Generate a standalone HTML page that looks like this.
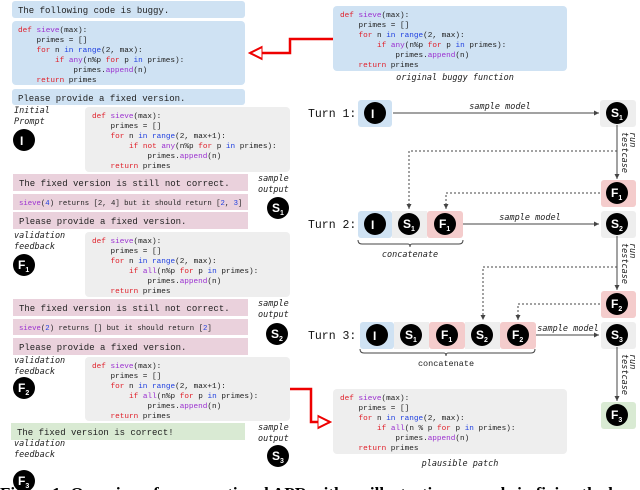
<!DOCTYPE html>
<html><head><meta charset="utf-8"><style>
body{margin:0;background:#fff}
svg{display:block}
.m{font-family:"Liberation Mono",monospace}
.c{font-size:7.7px;fill:#222}
.t{font-size:9px;fill:#222}
.it{font-family:"DejaVu Sans Mono","Liberation Mono",monospace;font-style:italic;font-size:8.5px;fill:#222}
.k{fill:#e0202a}.p{fill:#9b30d0}.b{fill:#2040e0}
.L{font-family:"Liberation Sans",sans-serif;font-weight:bold;fill:#fff;font-size:12px}
.s{font-size:7px}
</style></head><body>
<svg width="640" height="490" xmlns="http://www.w3.org/2000/svg">
<defs>
<marker id="a" markerWidth="6" markerHeight="6" refX="5" refY="3" orient="auto"><path d="M0,0.5 L5,3 L0,5.5z" fill="#444"/></marker>
<marker id="r" markerWidth="6" markerHeight="6" refX="5" refY="3" orient="auto"><path d="M0,0.5 L5,3 L0,5.5z" fill="#fff" stroke="#e00" stroke-width="0.8"/></marker>
</defs>
<rect x="12" y="1" width="233" height="17" rx="3" fill="#cfe2f3"/>
<text class="m t" x="18" y="13">The following code is buggy.</text>
<rect x="12" y="21" width="233" height="64" rx="4" fill="#cfe2f3"/>
<g class="m c">
<text x="18" y="32"><tspan class="k">def</tspan> <tspan class="p">sieve</tspan>(max):</text>
<text x="36.5" y="42">primes = []</text>
<text x="36.5" y="52"><tspan class="k">for</tspan> n <tspan class="b">in</tspan> <tspan class="b">range</tspan>(2, max):</text>
<text x="55" y="62"><tspan class="k">if</tspan> <tspan class="p">any</tspan>(n%p <tspan class="k">for</tspan> p <tspan class="b">in</tspan> primes):</text>
<text x="73.4" y="72">primes.<tspan class="p">append</tspan>(n)</text>
<text x="36.5" y="82"><tspan class="k">return</tspan> primes</text>
</g>
<rect x="12" y="89" width="233" height="16" rx="3" fill="#cfe2f3"/>
<text class="m t" x="18" y="101">Please provide a fixed version.</text>
<text class="it" x="14" y="113">Initial</text>
<text class="it" x="14" y="124">Prompt</text>
<rect x="85" y="107" width="205" height="65" rx="4" fill="#eeeeee"/>
<g class="m c">
<text x="92" y="118"><tspan class="k">def</tspan> <tspan class="p">sieve</tspan>(max):</text>
<text x="110.5" y="128">primes = []</text>
<text x="110.5" y="138"><tspan class="k">for</tspan> n <tspan class="b">in</tspan> <tspan class="b">range</tspan>(2, max+1):</text>
<text x="129" y="148"><tspan class="k">if not</tspan> <tspan class="p">any</tspan>(n%p <tspan class="k">for</tspan> p <tspan class="b">in</tspan> primes):</text>
<text x="147.4" y="158">primes.<tspan class="p">append</tspan>(n)</text>
<text x="110.5" y="168"><tspan class="k">return</tspan> primes</text>
</g>
<rect x="13" y="174" width="235" height="17" fill="#ead1dc"/>
<text class="m t" x="19" y="186">The fixed version is still not correct.</text>
<rect x="13" y="194" width="235" height="16" fill="#ead1dc"/>
<text class="m" font-size="7.3" fill="#222" x="19" y="205"><tspan class="p">sieve</tspan>(<tspan class="b">4</tspan>) returns [2, 4] but it should return [<tspan class="b">2</tspan>, <tspan class="b">3</tspan>]</text>
<rect x="13" y="212" width="235" height="17" fill="#ead1dc"/>
<text class="m t" x="19" y="224">Please provide a fixed version.</text>
<text class="it" x="258" y="181">sample</text>
<text class="it" x="258" y="192">output</text>
<text class="it" x="14" y="238">validation</text>
<text class="it" x="14" y="249">feedback</text>
<rect x="85" y="232" width="205" height="65" rx="4" fill="#eeeeee"/>
<g class="m c">
<text x="92" y="243"><tspan class="k">def</tspan> <tspan class="p">sieve</tspan>(max):</text>
<text x="110.5" y="253">primes = []</text>
<text x="110.5" y="263"><tspan class="k">for</tspan> n <tspan class="b">in</tspan> <tspan class="b">range</tspan>(2, max):</text>
<text x="129" y="273"><tspan class="k">if</tspan> <tspan class="p">all</tspan>(n%p <tspan class="k">for</tspan> p <tspan class="b">in</tspan> primes):</text>
<text x="147.4" y="283">primes.<tspan class="p">append</tspan>(n)</text>
<text x="110.5" y="293"><tspan class="k">return</tspan> primes</text>
</g>
<rect x="13" y="299" width="235" height="17" fill="#ead1dc"/>
<text class="m t" x="19" y="311">The fixed version is still not correct.</text>
<rect x="13" y="319" width="235" height="16" fill="#ead1dc"/>
<text class="m" font-size="7.3" fill="#222" x="19" y="330"><tspan class="p">sieve</tspan>(<tspan class="b">2</tspan>) returns [] but it should return [<tspan class="b">2</tspan>]</text>
<rect x="13" y="338" width="235" height="17" fill="#ead1dc"/>
<text class="m t" x="19" y="350">Please provide a fixed version.</text>
<text class="it" x="258" y="306">sample</text>
<text class="it" x="258" y="317">output</text>
<text class="it" x="14" y="363">validation</text>
<text class="it" x="14" y="374">feedback</text>
<rect x="85" y="357" width="205" height="64" rx="4" fill="#eeeeee"/>
<g class="m c">
<text x="92" y="368"><tspan class="k">def</tspan> <tspan class="p">sieve</tspan>(max):</text>
<text x="110.5" y="378">primes = []</text>
<text x="110.5" y="388"><tspan class="k">for</tspan> n <tspan class="b">in</tspan> <tspan class="b">range</tspan>(2, max+1):</text>
<text x="129" y="398"><tspan class="k">if</tspan> <tspan class="p">all</tspan>(n%p <tspan class="k">for</tspan> p <tspan class="b">in</tspan> primes):</text>
<text x="147.4" y="408">primes.<tspan class="p">append</tspan>(n)</text>
<text x="110.5" y="418"><tspan class="k">return</tspan> primes</text>
</g>
<rect x="11" y="423" width="234" height="17" fill="#d9ead3"/>
<text class="m t" x="17" y="435">The fixed version is correct!</text>
<text class="it" x="258" y="430">sample</text>
<text class="it" x="258" y="441">output</text>
<text class="it" x="14" y="446">validation</text>
<text class="it" x="14" y="457">feedback</text>
<g>
<circle cx="24" cy="140" r="11"/><text class="L" x="20" y="145">I</text>
<circle cx="278" cy="208" r="11"/><text class="L" x="272" y="212">S<tspan class="s" dy="3">1</tspan></text>
<circle cx="24" cy="265" r="11"/><text class="L" x="18" y="269">F<tspan class="s" dy="3">1</tspan></text>
<circle cx="277" cy="334" r="11"/><text class="L" x="271" y="338">S<tspan class="s" dy="3">2</tspan></text>
<circle cx="24" cy="388" r="11"/><text class="L" x="18" y="392">F<tspan class="s" dy="3">2</tspan></text>
<circle cx="278" cy="456" r="11"/><text class="L" x="272" y="460">S<tspan class="s" dy="3">3</tspan></text>
<circle cx="24" cy="481" r="11"/><text class="L" x="18" y="485">F<tspan class="s" dy="3">3</tspan></text>
</g>
<path d="M333,39 H290 V53 H250" fill="none" stroke="#e00" stroke-width="2.5" marker-end="url(#r)"/>
<path d="M290,389 H311 V422 H330" fill="none" stroke="#e00" stroke-width="2.5" marker-end="url(#r)"/>
<rect x="333" y="6" width="234" height="65" rx="4" fill="#cfe2f3"/>
<g class="m c">
<text x="340" y="17"><tspan class="k">def</tspan> <tspan class="p">sieve</tspan>(max):</text>
<text x="358.5" y="27">primes = []</text>
<text x="358.5" y="37"><tspan class="k">for</tspan> n <tspan class="b">in</tspan> <tspan class="b">range</tspan>(2, max):</text>
<text x="377" y="47"><tspan class="k">if</tspan> <tspan class="p">any</tspan>(n%p <tspan class="k">for</tspan> p <tspan class="b">in</tspan> primes):</text>
<text x="395.4" y="57">primes.<tspan class="p">append</tspan>(n)</text>
<text x="358.5" y="67"><tspan class="k">return</tspan> primes</text>
</g>
<text class="it" x="455" y="80" text-anchor="middle">original buggy function</text>
<g class="m" font-size="11.5" fill="#111">
<text x="308" y="117">Turn 1:</text>
<text x="308" y="228">Turn 2:</text>
<text x="308" y="339">Turn 3:</text>
</g>
<rect x="358" y="100" width="34" height="27" rx="3" fill="#cfe2f3"/>
<rect x="600" y="100" width="36" height="27" rx="3" fill="#eeeeee"/>
<rect x="601" y="180" width="35" height="27" rx="3" fill="#f4cccc"/>
<rect x="358" y="211" width="34" height="27" rx="3" fill="#cfe2f3"/>
<rect x="392" y="211" width="35" height="27" fill="#eeeeee"/>
<rect x="427" y="211" width="36" height="27" rx="3" fill="#f4cccc"/>
<rect x="601" y="211" width="35" height="27" rx="3" fill="#eeeeee"/>
<rect x="601" y="291" width="35" height="27" rx="3" fill="#f4cccc"/>
<rect x="360" y="322" width="34" height="27" rx="3" fill="#cfe2f3"/>
<rect x="394" y="322" width="35" height="27" fill="#eeeeee"/>
<rect x="429" y="322" width="36" height="27" rx="3" fill="#f4cccc"/>
<rect x="465" y="322" width="35" height="27" fill="#eeeeee"/>
<rect x="500" y="322" width="36" height="27" rx="3" fill="#f4cccc"/>
<rect x="601" y="322" width="35" height="27" rx="3" fill="#eeeeee"/>
<rect x="601" y="402" width="35" height="27" rx="3" fill="#d9ead3"/>
<g stroke="#444" stroke-width="1" fill="none">
<path d="M393,113 H599" marker-end="url(#a)"/>
<path d="M617,125 V179" marker-end="url(#a)"/>
<path d="M617,151 H409 V209" stroke-dasharray="2,2" marker-end="url(#a)"/>
<path d="M600,193 H446 V209" stroke-dasharray="2,2" marker-end="url(#a)"/>
<path d="M463,224 H599" marker-end="url(#a)"/>
<path d="M617,236 V290" marker-end="url(#a)"/>
<path d="M617,267 H483 V320" stroke-dasharray="2,2" marker-end="url(#a)"/>
<path d="M600,304 H518 V320" stroke-dasharray="2,2" marker-end="url(#a)"/>
<path d="M536,335 H599" marker-end="url(#a)"/>
<path d="M617,347 V401" marker-end="url(#a)"/>
<path d="M358,240 q0,4 4,4 H408 q2,0 2,3 q0,-3 2,-3 H459 q4,0 4,-4"/>
<path d="M360,349 q0,4 4,4 H444 q2,0 2,3 q0,-3 2,-3 H531 q4,0 4,-4"/>
</g>
<text class="it" x="500" y="109" text-anchor="middle">sample model</text>
<text class="it" x="530" y="220" text-anchor="middle">sample model</text>
<text class="it" x="568" y="331" text-anchor="middle">sample model</text>
<text class="it" x="410" y="257" text-anchor="middle">concatenate</text>
<text class="m" font-size="8.5" fill="#222" x="446" y="366" text-anchor="middle">concatenate</text>
<g class="it">
<text transform="translate(630,132) rotate(90)">run</text>
<text transform="translate(622,132) rotate(90)">testcase</text>
<text transform="translate(630,243) rotate(90)">run</text>
<text transform="translate(622,243) rotate(90)">testcase</text>
<text transform="translate(630,354) rotate(90)">run</text>
<text transform="translate(622,354) rotate(90)">testcase</text>
</g>
<g>
<circle cx="375" cy="113" r="11"/><text class="L" x="371" y="118">I</text>
<circle cx="617" cy="113" r="11"/><text class="L" x="611" y="117">S<tspan class="s" dy="3">1</tspan></text>
<circle cx="617" cy="193" r="11"/><text class="L" x="611" y="197">F<tspan class="s" dy="3">1</tspan></text>
<circle cx="375" cy="224" r="11"/><text class="L" x="371" y="229">I</text>
<circle cx="409" cy="224" r="11"/><text class="L" x="403" y="228">S<tspan class="s" dy="3">1</tspan></text>
<circle cx="445" cy="224" r="11"/><text class="L" x="439" y="228">F<tspan class="s" dy="3">1</tspan></text>
<circle cx="617" cy="224" r="11"/><text class="L" x="611" y="228">S<tspan class="s" dy="3">2</tspan></text>
<circle cx="617" cy="304" r="11"/><text class="L" x="611" y="308">F<tspan class="s" dy="3">2</tspan></text>
<circle cx="377" cy="335" r="11"/><text class="L" x="373" y="340">I</text>
<circle cx="411" cy="335" r="11"/><text class="L" x="405" y="339">S<tspan class="s" dy="3">1</tspan></text>
<circle cx="447" cy="335" r="11"/><text class="L" x="441" y="339">F<tspan class="s" dy="3">1</tspan></text>
<circle cx="482" cy="335" r="11"/><text class="L" x="476" y="339">S<tspan class="s" dy="3">2</tspan></text>
<circle cx="518" cy="335" r="11"/><text class="L" x="512" y="339">F<tspan class="s" dy="3">2</tspan></text>
<circle cx="617" cy="335" r="11"/><text class="L" x="611" y="339">S<tspan class="s" dy="3">3</tspan></text>
<circle cx="617" cy="415" r="11"/><text class="L" x="611" y="419">F<tspan class="s" dy="3">3</tspan></text>
</g>
<rect x="333" y="389" width="234" height="65" rx="4" fill="#eeeeee"/>
<g class="m c">
<text x="340" y="400"><tspan class="k">def</tspan> <tspan class="p">sieve</tspan>(max):</text>
<text x="358.5" y="410">primes = []</text>
<text x="358.5" y="420"><tspan class="k">for</tspan> n <tspan class="b">in</tspan> <tspan class="b">range</tspan>(2, max):</text>
<text x="377" y="430"><tspan class="k">if</tspan> <tspan class="p">all</tspan>(n % p <tspan class="k">for</tspan> p <tspan class="b">in</tspan> primes):</text>
<text x="395.4" y="440">primes.<tspan class="p">append</tspan>(n)</text>
<text x="358.5" y="450"><tspan class="k">return</tspan> primes</text>
</g>
<text class="it" x="460" y="466" text-anchor="middle">plausible patch</text>
<text x="0" y="499" font-family="Liberation Serif,serif" font-weight="bold" font-size="17" fill="#000">Figure 1: Overview of conversational APR with an illustrative example in fixing the bug</text>
</svg>
</body></html>
